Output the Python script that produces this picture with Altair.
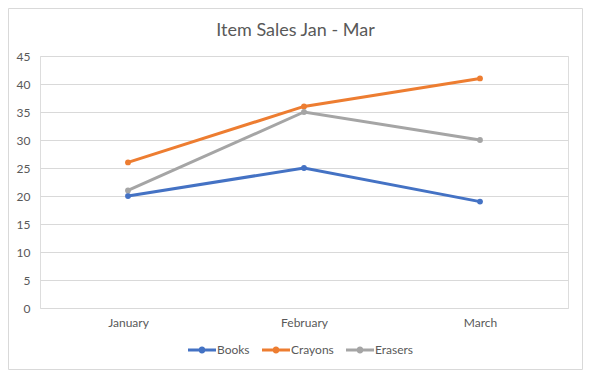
import altair as alt
import pandas as pd

months = ["January", "February", "March"]
series = ["Books", "Crayons", "Erasers"]
books = [20, 25, 19]
crayons = [26, 36, 41]
erasers = [21, 35, 30]
colors = ["#4472C4", "#ED7D31", "#A5A5A5"]
y_ticks = [0, 5, 10, 15, 20, 25, 30, 35, 40, 45]
title_text = "Item Sales Jan - Mar"

rows = []
for name, vals in zip(series, [books, crayons, erasers]):
    for m, v in zip(months, vals):
        rows.append({"Month": m, "Series": name, "Sales": v})
df = pd.DataFrame(rows)

FONT = "Lato"
GREY = "#595959"

legend_symbol = (
    "M-1,-0.107 H1 V0.107 H-1 Z "
    "M-0.25,0 A0.25,0.25 0 1,1 0.25,0 A0.25,0.25 0 1,1 -0.25,0 Z"
)

color = alt.Color(
    "Series:N",
    scale=alt.Scale(domain=series, range=colors),
    sort=series,
    legend=alt.Legend(
        title=None,
        orient="none",
        direction="horizontal",
        legendX=148,
        legendY=280,
        symbolType=legend_symbol,
        symbolSize=784,
        symbolStrokeWidth=0,
        symbolOpacity=1,
        labelFont=FONT,
        labelFontSize=12,
        labelColor=GREY,
        labelOffset=1,
        columnPadding=12,
        padding=0,
    ),
)

x = alt.X(
    "Month:N",
    sort=months,
    scale=alt.Scale(type="point", padding=0.5),
    axis=alt.Axis(
        title=None,
        labelAngle=0,
        domain=False,
        ticks=False,
        grid=False,
        labelFont=FONT,
        labelFontSize=12,
        labelColor=GREY,
        labelPadding=9,
    ),
)
y = alt.Y(
    "Sales:Q",
    scale=alt.Scale(domain=[0, 45], nice=False, zero=True),
    axis=alt.Axis(
        title=None,
        values=y_ticks,
        domain=False,
        ticks=False,
        grid=True,
        gridColor="#d9d9d9",
        gridWidth=1,
        labelFont=FONT,
        labelFontSize=12,
        labelColor=GREY,
        labelPadding=10,
    ),
)

lines = alt.Chart(df).mark_line(strokeWidth=3).encode(x=x, y=y, color=color, detail="Series:N")
points = alt.Chart(df).mark_point(filled=True, size=34, opacity=1).encode(x=x, y=y, color=color)

frame = alt.Chart(pd.DataFrame({"a": [0]})).mark_rect(
    fill=None, stroke="#d9d9d9", strokeWidth=1
).encode(
    x=alt.value(-31.5), x2=alt.value(542.5), y=alt.value(-47.5), y2=alt.value(313.5)
)

title = alt.Chart(pd.DataFrame({"t": [title_text]})).mark_text(
    font=FONT, fontSize=18, color=GREY, align="center", baseline="alphabetic"
).encode(text="t:N", x=alt.value(255.5), y=alt.value(-20))

chart = (
    alt.layer(frame, title, lines, points)
    .properties(
        width=528,
        height=252,
        padding={"left": 32, "top": 48, "right": 15, "bottom": 62},
        autosize=alt.AutoSizeParams(type="none"),
    )
    .configure_view(stroke=None)
    .configure(background="white")
)

chart.save("out.html", embed_options={"renderer": "svg", "actions": False})
